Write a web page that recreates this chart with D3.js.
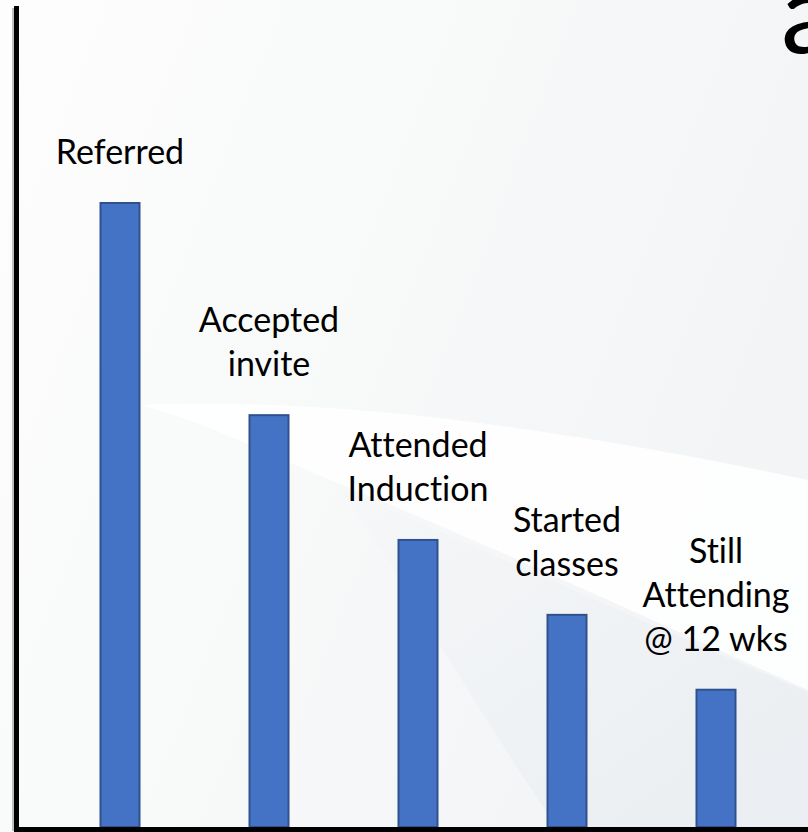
<!DOCTYPE html>
<html>
<head>
<meta charset="utf-8">
<script src="https://cdn.jsdelivr.net/npm/d3@7"></script>
<style>
  html, body { margin: 0; padding: 0; background: #fcfcfc; }
  svg { display: block; }
  text { font-family: Lato, "Noto Sans", sans-serif; fill: #000; font-variant-ligatures: none; font-feature-settings: "liga" 0, "clig" 0, "dlig" 0; }
</style>
</head>
<body>
<div id="chart"></div>
<script>
// Funnel of participants through the programme
const stages = ["Referred", "Accepted invite", "Attended Induction", "Started classes", "Still Attending @ 12 wks"];
const stageLines = [["Referred"], ["Accepted", "invite"], ["Attended", "Induction"], ["Started", "classes"], ["Still", "Attending", "@ 12 wks"]];
const counts = [100, 66, 46, 34, 22];
const titleText = "a";

const W = 808, H = 832;
const svg = d3.select("#chart").append("svg").attr("width", W).attr("height", H);

// Soft background swooshes
const defs = svg.append("defs");
const bgGrad = defs.append("linearGradient").attr("id", "bg").attr("x1", 0).attr("y1", 0).attr("x2", 1).attr("y2", 0.4);
bgGrad.append("stop").attr("offset", 0).attr("stop-color", "#fdfdfd");
bgGrad.append("stop").attr("offset", 0.5).attr("stop-color", "#f8f9f9");
bgGrad.append("stop").attr("offset", 1).attr("stop-color", "#f2f4f6");
svg.append("rect").attr("width", W).attr("height", H).attr("fill", "url(#bg)");

const lowGrad = defs.append("linearGradient").attr("id", "low").attr("x1", 0).attr("y1", 0).attr("x2", 1).attr("y2", 1);
lowGrad.append("stop").attr("offset", 0).attr("stop-color", "#f5f7f8");
lowGrad.append("stop").attr("offset", 1).attr("stop-color", "#eaedf1");

// white band
svg.append("path")
  .attr("d", "M140,405 C360,395 620,440 808,480 L808,690 C650,620 480,540 330,480 C260,450 200,420 140,405 Z")
  .attr("fill", "#ffffff").attr("opacity", 0.85);
// lower grey sweep
svg.append("path")
  .attr("d", "M340,488 C480,548 650,625 808,692 L808,832 L560,832 C470,700 410,590 340,488 Z")
  .attr("fill", "url(#low)");

// Scales
const x = d3.scalePoint().domain(stages).range([120, 716]);
const y = d3.scaleLinear().domain([0, 100]).range([827, 203]);
const barW = 39;

// Bars
svg.append("g").selectAll("rect").data(stages).join("rect")
  .attr("x", d => x(d) - barW / 2)
  .attr("y", (d, i) => y(counts[i]))
  .attr("width", barW)
  .attr("height", (d, i) => y(0) - y(counts[i]))
  .attr("fill", "#4472c4")
  .attr("stroke", "#2f528f")
  .attr("stroke-width", 2);

// Stage labels above each bar
const lineH = 44;
const labels = svg.append("g").selectAll("text").data(stages).join("text")
  .attr("text-anchor", "middle")
  .attr("font-size", 34)
  .attr("x", d => x(d))
  .attr("y", (d, i) => y(counts[i]) - 39 - (stageLines[i].length - 1) * lineH);
labels.each(function (d, i) {
  d3.select(this).selectAll("tspan").data(stageLines[i]).join("tspan")
    .attr("x", x(d))
    .attr("dy", (t, j) => j === 0 ? 0 : lineH)
    .text(t => t);
});

// Axes: plain lines without ticks
svg.append("line").attr("x1", 13).attr("x2", 13).attr("y1", 8).attr("y2", 831)
  .attr("stroke", "#bdbdbd").attr("stroke-width", 2);
svg.append("line").attr("x1", 16.5).attr("x2", 16.5).attr("y1", 6).attr("y2", 832)
  .attr("stroke", "#000").attr("stroke-width", 5);
svg.append("line").attr("x1", 14).attr("x2", W).attr("y1", y(0) + 2.5).attr("y2", y(0) + 2.5)
  .attr("stroke", "#000").attr("stroke-width", 5);

// Title fragment at the top right
svg.append("text").attr("x", 781).attr("y", 53).attr("font-size", 112).text(titleText);
</script>
</body>
</html>
